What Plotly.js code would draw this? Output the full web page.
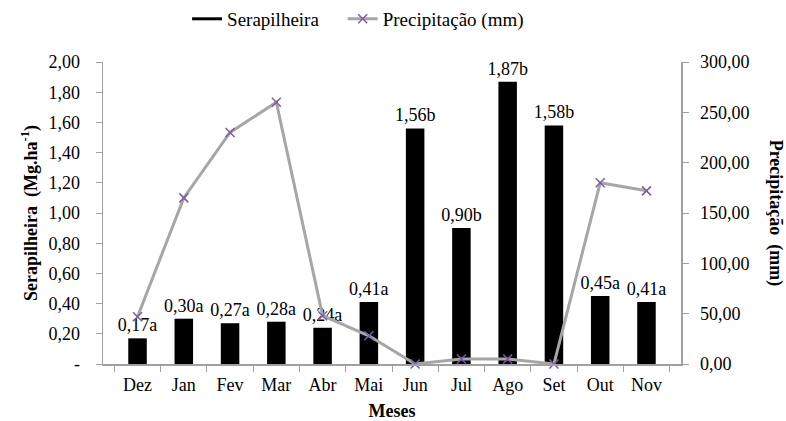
<!DOCTYPE html>
<html><head><meta charset="utf-8">
<script src="https://cdn.plot.ly/plotly-3.0.1.min.js"></script>
<style>html,body{margin:0;padding:0;background:#fff}#chart{width:786px;height:421px}</style>
</head><body><div id="chart"></div>
<script>
const meses = ["Dez","Jan","Fev","Mar","Abr","Mai","Jun","Jul","Ago","Set","Out","Nov"];
const serapilheira = [0.17,0.30,0.27,0.28,0.24,0.41,1.56,0.90,1.87,1.58,0.45,0.41];
const rotulos = ["0,17a","0,30a","0,27a","0,28a","0,24a","0,41a","1,56b","0,90b","1,87b","1,58b","0,45a","0,41a"];
const precipitacao = [47,165,230,260,48,28,0,5,5,0,180,172];
const yTickVals = [0,0.2,0.4,0.6,0.8,1.0,1.2,1.4,1.6,1.8,2.0];
const yTickText = ["-","0,20","0,40","0,60","0,80","1,00","1,20","1,40","1,60","1,80","2,00"];
const y2TickVals = [0,50,100,150,200,250,300];
const y2TickText = ["0,00","50,00","100,00","150,00","200,00","250,00","300,00"];

const font = "'Liberation Serif', serif";
const traces = [
  {type:"bar", x:meses, y:serapilheira, text:rotulos, textposition:"outside", constraintext:"none", cliponaxis:false,
   textfont:{family:font,size:18,color:"#000"}, marker:{color:"#000"}, showlegend:false, hoverinfo:"skip"},
  {type:"scatter", mode:"lines", x:[null], y:[null], name:"Serapilheira", line:{color:"#000",width:3}, legend:"legend"},
  {type:"scatter", mode:"lines+markers", x:meses, y:precipitacao, yaxis:"y2", name:"Precipitação (mm)", legend:"legend2",
   line:{color:"#a6a6a6",width:3}, marker:{symbol:"x-thin-open",size:9,color:"#7a5ca8",line:{color:"#7a5ca8",width:1.5}}, cliponaxis:false}
];
const legendBase = {orientation:"h", xref:"container", yref:"container", xanchor:"left", y:0.955, yanchor:"middle",
  font:{family:font,size:19}, bgcolor:"rgba(0,0,0,0)"};
const layout = {
  width:786, height:421, margin:{l:103,r:105,t:62,b:57, autoexpand:false},
  paper_bgcolor:"#fff", plot_bgcolor:"#fff",
  font:{family:font,size:18,color:"#000"},
  bargap:0.6,
  showlegend:true,
  legend:Object.assign({}, legendBase, {x:0.238}),
  legend2:Object.assign({}, legendBase, {x:0.436}),
  xaxis:{type:"category", tickson:"boundaries", ticks:"outside", ticklen:6, tickcolor:"#a0a0a0",
    showline:true, linecolor:"#a0a0a0", linewidth:1.5, showgrid:false, zeroline:false, automargin:false,
    tickfont:{family:font,size:18}, ticklabelstandoff:4,
    title:{text:"<b>Meses</b>", font:{family:font,size:18}, standoff:12}},
  yaxis:{range:[0,2], tickvals:yTickVals, ticktext:yTickText, ticks:"outside", ticklen:6, tickcolor:"#a0a0a0",
    showline:true, linecolor:"#a0a0a0", linewidth:1.5, showgrid:false, zeroline:false, automargin:false,
    tickfont:{family:font,size:18}, ticklabelstandoff:12,
    title:{text:"<b>Serapilheira  (Mg.ha<sup>-1</sup>)</b>", font:{family:font,size:18}, standoff:6}},
  yaxis2:{range:[0,300], overlaying:"y", side:"right", tickvals:y2TickVals, ticktext:y2TickText, ticks:"outside", ticklen:6, tickcolor:"#a0a0a0",
    showline:true, linecolor:"#a0a0a0", linewidth:1.5, showgrid:false, zeroline:false, automargin:false,
    tickfont:{family:font,size:18}, ticklabelstandoff:8},
  annotations:[{text:"<b>Precipitação  (mm)</b>", xref:"paper", yref:"paper", x:1.165, y:0.5, textangle:90, showarrow:false,
    font:{family:font,size:18}, xanchor:"center", yanchor:"middle"}]
};
Plotly.newPlot("chart", traces, layout, {displayModeBar:false, staticPlot:true});
</script></body></html>
